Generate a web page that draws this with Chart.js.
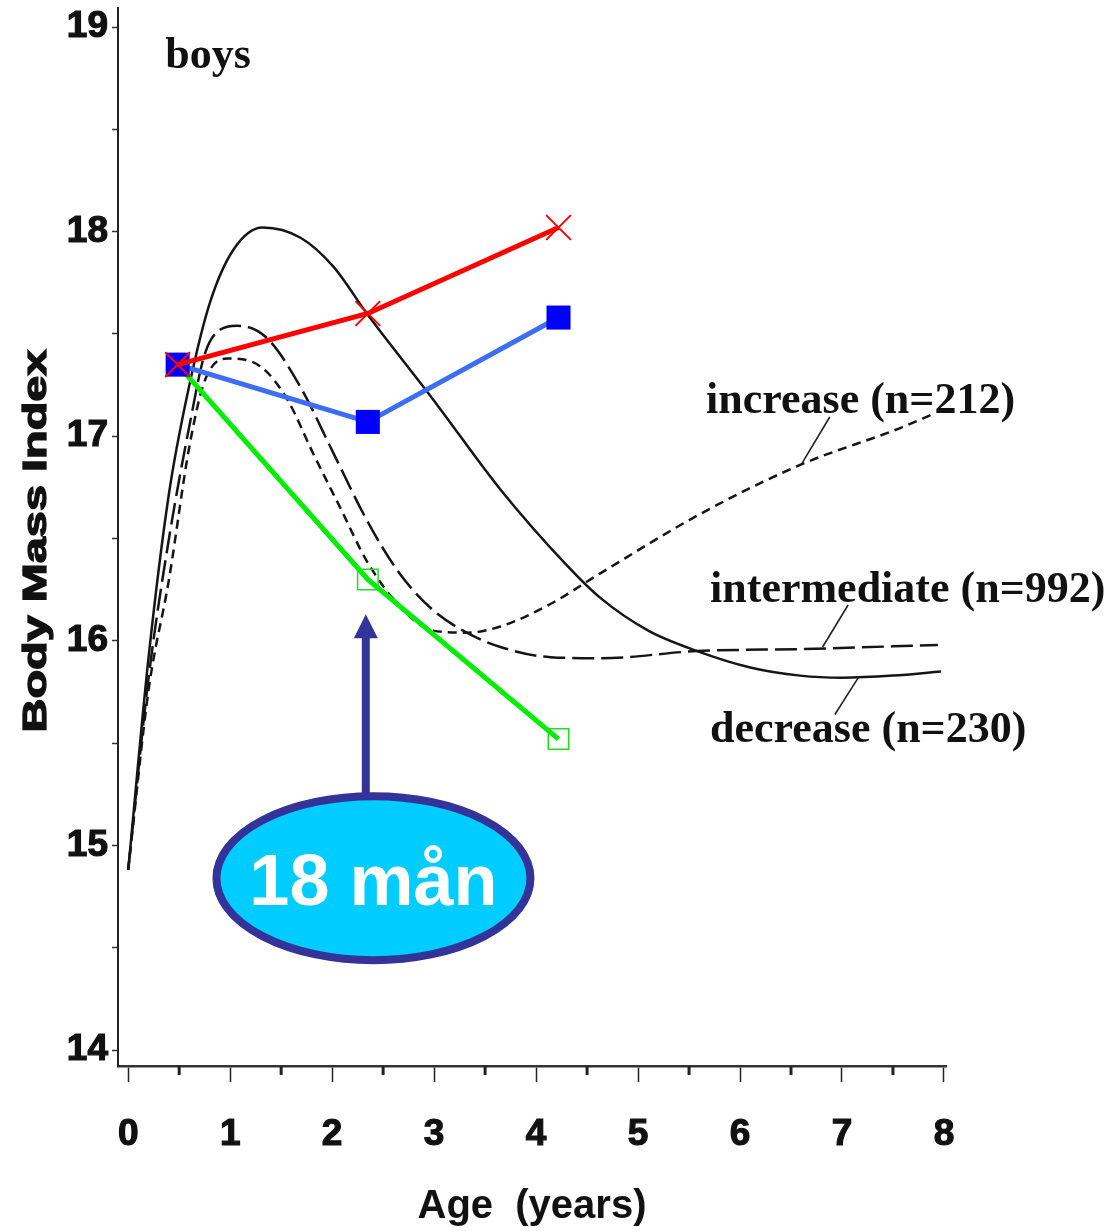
<!DOCTYPE html>
<html>
<head>
<meta charset="utf-8">
<title>BMI boys</title>
<script src="https://cdn.jsdelivr.net/npm/chart.js@4.4.1/dist/chart.umd.min.js"></script>
<style>
  html, body { margin: 0; padding: 0; background: #fff; }
</style>
</head>
<body>
<canvas id="bmiChart" width="1115" height="1231"></canvas>
<script>
/* ==========================================
   BMI TRAJECTORIES - BOYS
   ========================================== */

// Axis ticks
const ageTicks = [0, 0.5, 1, 1.5, 2, 2.5, 3, 3.5, 4, 4.5, 5, 5.5, 6, 6.5, 7, 7.5, 8];
const ageTickLabels = ['0', '', '1', '', '2', '', '3', '', '4', '', '5', '', '6', '', '7', '', '8'];
const bmiTicks = [14, 14.5, 15, 15.5, 16, 16.5, 17, 17.5, 18, 18.5, 19];
const bmiTickLabels = ['14', '', '15', '', '16', '', '17', '', '18', '', '19'];

// Solid curve: decrease (n=230)
const decreaseAges = [0, 0.2, 0.4, 0.6, 0.8, 1.03, 1.32, 1.69, 2.01, 2.34, 2.99, 3.65, 4.30, 4.63, 5.10, 5.58, 6.10, 6.59, 7.0, 7.5, 7.97];
const decreaseBmi  = [14.88, 15.92, 16.72, 17.25, 17.65, 17.91, 18.02, 17.97, 17.83, 17.60, 17.18, 16.74, 16.37, 16.21, 16.05, 15.95, 15.87, 15.83, 15.82, 15.83, 15.85];

// Long dashes: intermediate (n=992)
const intermediateAges = [0, 0.2, 0.4, 0.6, 0.75, 0.9, 1.07, 1.36, 1.69, 2.01, 2.34, 2.66, 2.99, 3.32, 3.65, 4.14, 4.63, 5.58, 6.61, 7.94];
const intermediateBmi  = [14.88, 15.82, 16.50, 17.05, 17.40, 17.52, 17.54, 17.48, 17.24, 16.92, 16.59, 16.33, 16.15, 16.04, 15.97, 15.92, 15.915, 15.95, 15.96, 15.98];

// Short dashes: increase (n=212)
const increaseAges = [0, 0.2, 0.4, 0.6, 0.75, 0.97, 1.30, 1.56, 1.81, 2.08, 2.34, 2.66, 2.99, 3.32, 3.65, 4.14, 4.63, 5.61, 6.59, 7.57, 7.90];
const increaseBmi  = [14.88, 15.76, 16.30, 16.95, 17.27, 17.38, 17.34, 17.18, 16.92, 16.65, 16.39, 16.17, 16.05, 16.04, 16.07, 16.18, 16.33, 16.62, 16.86, 17.04, 17.11];

// Overlaid measurements (coloured)
const visitAges = [0.485, 2.35, 4.22];
const redBmi   = [17.35, 17.60, 18.02];
const blueBmi  = [17.35, 17.07, 17.58];
const greenBmi = [17.35, 16.30, 15.52];

// Curve labels
const groupLabels = ['increase (n=212)', 'intermediate (n=992)', 'decrease (n=230)'];

function toPoints(xs, ys) {
  return xs.map((x, i) => ({ x: x, y: ys[i] }));
}

// Where annotations sit, in data units (age, bmi)
const notes = {
  boys: [0.363, 18.80],
  labels: [[5.667, 17.113], [5.706, 16.19], [5.706, 15.505]],
  leaders: [
    [[6.88, 17.094], [6.61, 16.87]],
    [[7.06, 16.175], [6.81, 15.97]],
    [[7.16, 15.82], [6.93, 15.64]]
  ],
  arrowTip: [2.33, 16.13],
  bubble: [2.405, 14.84]
};

const overlay = {
  id: 'overlay',
  afterDatasetsDraw(chart) {
    const { ctx, scales: { x, y } } = chart;
    const px = v => x.getPixelForValue(v);
    const py = v => y.getPixelForValue(v);
    ctx.save();

    // serif labels
    ctx.fillStyle = '#111';
    ctx.font = 'bold 44px "Liberation Serif"';
    ctx.textAlign = 'left';
    ctx.textBaseline = 'alphabetic';
    ctx.fillText('boys', px(notes.boys[0]), py(notes.boys[1]));
    groupLabels.forEach((t, i) => {
      ctx.fillText(t, px(notes.labels[i][0]), py(notes.labels[i][1]));
    });

    // leader lines
    ctx.strokeStyle = '#222';
    ctx.lineWidth = 1.6;
    notes.leaders.forEach(([a, b]) => {
      ctx.beginPath();
      ctx.moveTo(px(a[0]), py(a[1]));
      ctx.lineTo(px(b[0]), py(b[1]));
      ctx.stroke();
    });

    // arrow + bubble
    const ax = px(notes.arrowTip[0]);
    const tipY = py(notes.arrowTip[1]);
    const cx = px(notes.bubble[0]);
    const cy = py(notes.bubble[1]);
    const rx = 157, ry = 82;

    ctx.fillStyle = '#333399';
    ctx.fillRect(ax - 4, tipY + 20, 8, cy - ry - tipY - 18);
    ctx.beginPath();
    ctx.moveTo(ax, tipY);
    ctx.lineTo(ax - 12, tipY + 24);
    ctx.lineTo(ax + 12, tipY + 24);
    ctx.closePath();
    ctx.fill();

    ctx.beginPath();
    ctx.ellipse(cx, cy, rx, ry, 0, 0, Math.PI * 2);
    ctx.fillStyle = '#00ccff';
    ctx.fill();
    ctx.lineWidth = 8;
    ctx.strokeStyle = '#333399';
    ctx.stroke();

    ctx.fillStyle = '#fff';
    ctx.font = 'bold 72px "Liberation Sans"';
    ctx.textAlign = 'center';
    ctx.fillText('18 mån', cx, cy + 27);

    ctx.restore();
  },
  afterDraw(chart) {
    const { ctx, chartArea, scales: { x } } = chart;
    ctx.save();

    // short, heavy minor ticks on the age axis
    ctx.strokeStyle = '#222';
    ctx.lineWidth = 3;
    ageTicks.filter(v => !Number.isInteger(v)).forEach(v => {
      const p = x.getPixelForValue(v);
      ctx.beginPath();
      ctx.moveTo(p, chartArea.bottom);
      ctx.lineTo(p, chartArea.bottom + 9);
      ctx.stroke();
    });

    // y title, wide heavy lettering as in the original
    ctx.translate(46, (chartArea.top + chartArea.bottom) / 2 + 4);
    ctx.rotate(-Math.PI / 2);
    ctx.scale(1.42, 1);
    ctx.fillStyle = '#111';
    ctx.strokeStyle = '#111';
    ctx.lineWidth = 1.3;
    ctx.font = 'bold 33px "Liberation Sans"';
    ctx.textAlign = 'center';
    ctx.textBaseline = 'alphabetic';
    ctx.fillText('Body Mass Index', 0, 0);
    ctx.strokeText('Body Mass Index', 0, 0);
    ctx.restore();
  }
};

const tickFont = { family: 'Liberation Sans', size: 37, weight: 'bold' };

const curveStyle = {
  borderColor: '#151515',
  borderWidth: 2.5,
  pointRadius: 0,
  cubicInterpolationMode: 'monotone'
};

// datasets listed first are drawn on top
new Chart(document.getElementById('bmiChart'), {
  type: 'line',
  data: {
    datasets: [
      {
        data: toPoints(visitAges, redBmi),
        borderColor: '#ff0000',
        borderWidth: 5,
        pointStyle: 'crossRot',
        pointRadius: 17.5,
        pointBorderWidth: 2,
        pointBorderColor: '#ff0000'
      },
      {
        data: toPoints(visitAges, blueBmi),
        borderColor: '#3d6df2',
        borderWidth: 5,
        pointStyle: 'rect',
        pointRadius: 17,
        pointBorderWidth: 0,
        pointBackgroundColor: '#0000ff'
      },
      {
        data: toPoints(visitAges, greenBmi),
        borderColor: '#00ee00',
        borderWidth: 5,
        pointStyle: 'rect',
        pointRadius: 14.5,
        pointBorderWidth: 1.5,
        pointBorderColor: '#22dd22',
        pointBackgroundColor: 'rgba(0,0,0,0)'
      },
      Object.assign({ data: toPoints(increaseAges, increaseBmi), borderDash: [9, 6] }, curveStyle),
      Object.assign({ data: toPoints(intermediateAges, intermediateBmi), borderDash: [22, 7] }, curveStyle),
      Object.assign({ data: toPoints(decreaseAges, decreaseBmi) }, curveStyle)
    ]
  },
  options: {
    responsive: false,
    animation: false,
    layout: { autoPadding: false, padding: { top: 8, right: 169, bottom: 0, left: 0 } },
    plugins: {
      legend: { display: false },
      tooltip: { enabled: false }
    },
    scales: {
      x: {
        type: 'linear',
        min: -0.1,
        max: 8.02,
        afterBuildTicks: scale => { scale.ticks = ageTicks.map(v => ({ value: v })); },
        afterFit: scale => {
          scale.height = 165;
          scale.paddingLeft = 0;
          scale.paddingRight = 0;
        },
        border: { display: true, color: '#333', width: 2.5 },
        grid: {
          drawOnChartArea: false,
          drawTicks: true,
          tickLength: 16,
          tickWidth: 1.5,
          tickColor: ctx => Number.isInteger(ctx.tick && ctx.tick.value) ? '#222' : 'rgba(0,0,0,0)'
        },
        ticks: {
          autoSkip: false,
          maxRotation: 0,
          padding: 31,
          color: '#111',
          textStrokeColor: '#111',
          textStrokeWidth: 1.2,
          font: tickFont,
          callback: (value, index) => ageTickLabels[index]
        },
        title: {
          display: true,
          text: 'Age  (years)',
          color: '#111',
          font: { family: 'Liberation Sans', size: 40, weight: 'bold' },
          padding: { top: 0, bottom: 0 }
        }
      },
      y: {
        type: 'linear',
        min: 13.922,
        max: 19.093,
        afterBuildTicks: scale => { scale.ticks = bmiTicks.map(v => ({ value: v })); },
        afterFit: scale => {
          scale.width = 118;
          scale.paddingTop = 0;
          scale.paddingBottom = 0;
        },
        border: { display: true, color: '#222', width: 2 },
        grid: {
          drawOnChartArea: false,
          drawTicks: true,
          tickLength: 6,
          tickWidth: 1.5,
          tickColor: '#333'
        },
        ticks: {
          autoSkip: false,
          padding: 4,
          color: '#111',
          textStrokeColor: '#111',
          textStrokeWidth: 1.2,
          font: tickFont,
          callback: (value, index) => bmiTickLabels[index]
        }
      }
    }
  },
  plugins: [overlay]
});
</script>
</body>
</html>
